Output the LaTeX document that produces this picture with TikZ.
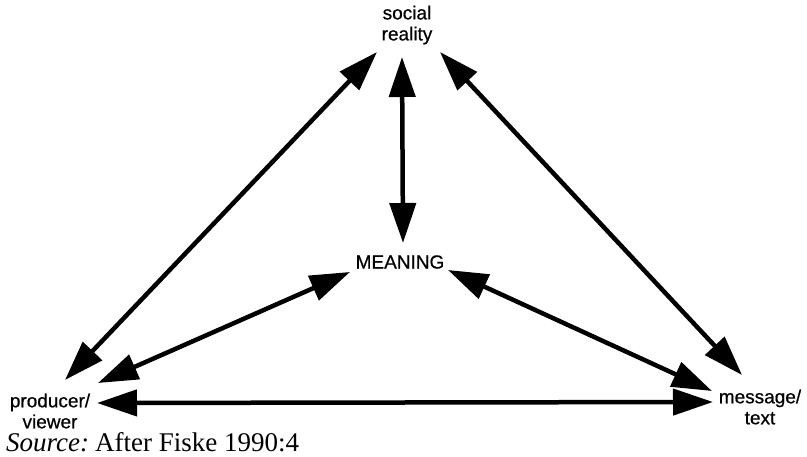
\documentclass[tikz,border=0pt]{standalone}
\usepackage{fontspec}
\setmainfont{Liberation Serif}
\newfontfamily\lblfont{Liberation Sans}[FakeBold=0.6]
\usetikzlibrary{arrows.meta}
\begin{document}
\begin{tikzpicture}[x=1pt,y=-1pt,
  lbl/.style={font=\lblfont\fontsize{19}{21}\selectfont, align=center, inner sep=0pt},
  link/.style={line width=4.5pt, {Triangle[length=40pt,width=26pt]}-{Triangle[length=40pt,width=26pt]}}]
\useasboundingbox (0,0) rectangle (807,457);

% labels
\node[lbl] (sr) at (407,25) {social\\reality};
\node[lbl] (mn) at (400,262) {MEANING};
\node[lbl] (pv) at (50,411) {producer/\\viewer};
\node[lbl] (mt) at (760,407) {message/\\text};
\node[anchor=base west, inner sep=0pt, font=\fontsize{27}{30}\selectfont] (src) at (6,452)
  {\textit{Source:}\hspace{0.22em}After Fiske 1990:4};

% arrow ends
\coordinate (sr-l) at (377,52);
\coordinate (sr-c) at (402,57);
\coordinate (sr-r) at (440,52);
\coordinate (mn-t) at (403,243);
\coordinate (mn-l) at (350,272);
\coordinate (mn-r) at (448,270);
\coordinate (pv-t) at (65,380);
\coordinate (pv-m) at (98,383);
\coordinate (pv-r) at (97,403);
\coordinate (mt-t) at (742,375);
\coordinate (mt-m) at (712,391);
\coordinate (mt-l) at (713,402);

% two-way arrows
\draw[link] (sr-l) -- (pv-t);
\draw[link] (sr-c) -- (mn-t);
\draw[link] (sr-r) -- (mt-t);
\draw[link] (mn-l) -- (pv-m);
\draw[link] (mn-r) -- (mt-m);
\draw[link] (pv-r) -- (mt-l);
\end{tikzpicture}
\end{document}
